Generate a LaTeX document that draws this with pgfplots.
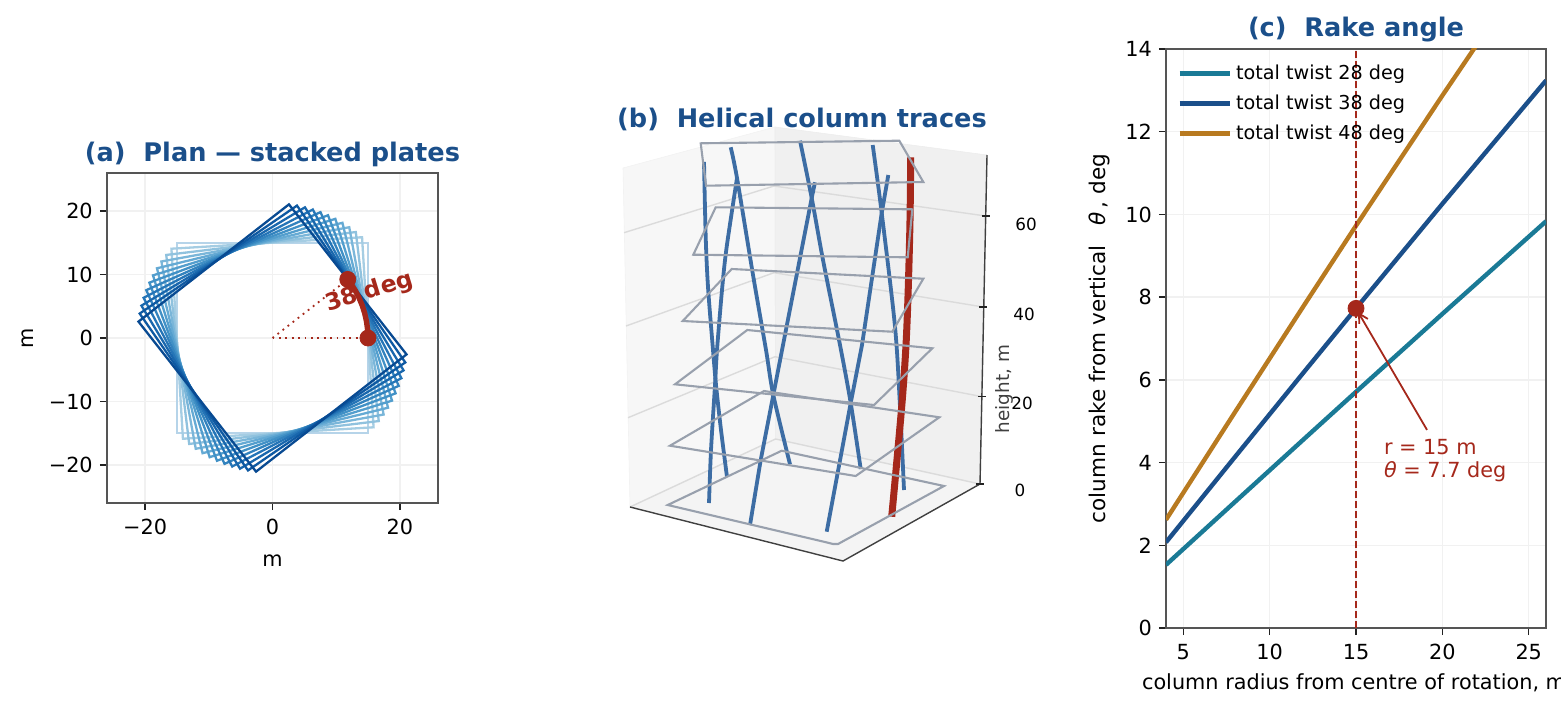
\documentclass[border=0pt]{standalone}
\usepackage{fontspec}
\setmainfont{DejaVu Sans}
\usepackage{pgfplots}
\pgfplotsset{compat=1.18}
\usetikzlibrary{arrows.meta}
\definecolor{ttl}{HTML}{1B4F8A}
\definecolor{redc}{HTML}{A5281B}
\definecolor{teal1}{HTML}{1A7A96}
\definecolor{ochre}{HTML}{B87A20}
\definecolor{spine}{HTML}{555555}
\definecolor{gridc}{HTML}{F1F1F1}
\definecolor{tickc}{HTML}{222222}
\definecolor{plate}{HTML}{98A0AD}
\definecolor{colb}{HTML}{3D6DA4}
\definecolor{pa}{RGB}{182,212,233}
\definecolor{pb}{RGB}{165,205,227}
\definecolor{pc}{RGB}{144,194,222}
\definecolor{pd}{RGB}{122,182,217}
\definecolor{pe}{RGB}{101,170,212}
\definecolor{pf}{RGB}{83,158,205}
\definecolor{pg}{RGB}{65,145,198}
\definecolor{ph}{RGB}{51,131,190}
\definecolor{pi}{RGB}{37,117,183}
\definecolor{pj}{RGB}{25,103,173}
\definecolor{pk}{RGB}{14,89,162}
\definecolor{pl}{RGB}{8,74,146}
\newcommand{\tfs}{\fontsize{10.4}{12}\selectfont}
\newcommand{\ttlfs}{\fontsize{12.8}{15}\selectfont\bfseries}
\pgfplotsset{
  panel/.style={
    scale only axis, axis line style={draw=spine,line width=0.9pt},
    grid=major, grid style={draw=gridc,line width=0.7pt},
    tick style={draw=tickc,line width=0.7pt},
    major tick length=3.6pt, tick align=outside, xtick pos=bottom, ytick pos=left,
    ticklabel style={font=\tfs, text=black},
    xticklabel style={yshift=-1pt},
    label style={font=\tfs},
    every axis plot/.append style={mark=none},
    /pgf/number format/assume math mode=true,
    title style={font=\ttlfs, text=ttl},
  }
}
\begin{document}
\begin{tikzpicture}[x=1pt,y=1pt]
\path[use as bounding box] (0,0) rectangle (780.5,354);
% ------------------ panel a
\begin{axis}[panel, at={(53.5pt,102.5pt)}, anchor=south west, width=165.5pt, height=165pt,
  xmin=-26,xmax=26,ymin=-26,ymax=26,
  xtick={-20,0,20}, xticklabels={−20,0,20},
  ytick={-20,-10,0,10,20}, yticklabels={−20,−10,0,10,20},
  xlabel={m}, ylabel={m}, title={(a)\ \ Plan — stacked plates},
  title style={at={(0.5,1)},anchor=south,yshift=-6.5pt},
  xlabel style={yshift=-3pt}, ylabel style={yshift=1pt},
]
\addplot[pa,line width=1.15pt] coordinates {(15,15) (-15,15) (-15,-15) (15,-15)} -- cycle;
\addplot[pb,line width=1.15pt] coordinates {(14.069,15.877) (-15.877,14.069) (-14.069,-15.877) (15.877,-14.069)} -- cycle;
\addplot[pc,line width=1.15pt] coordinates {(13.087,16.695) (-16.695,13.087) (-13.087,-16.695) (16.695,-13.087)} -- cycle;
\addplot[pd,line width=1.15pt] coordinates {(12.057,17.454) (-17.454,12.057) (-12.057,-17.454) (17.454,-12.057)} -- cycle;
\addplot[pe,line width=1.15pt] coordinates {(10.983,18.149) (-18.149,10.983) (-10.983,-18.149) (18.149,-10.983)} -- cycle;
\addplot[pf,line width=1.15pt] coordinates {(9.870,18.777) (-18.777,9.870) (-9.870,-18.777) (18.777,-9.870)} -- cycle;
\addplot[pg,line width=1.15pt] coordinates {(8.721,19.338) (-19.338,8.721) (-8.721,-19.338) (19.338,-8.721)} -- cycle;
\addplot[ph,line width=1.15pt] coordinates {(7.539,19.829) (-19.829,7.539) (-7.539,-19.829) (19.829,-7.539)} -- cycle;
\addplot[pi,line width=1.15pt] coordinates {(6.331,20.247) (-20.247,6.331) (-6.331,-20.247) (20.247,-6.331)} -- cycle;
\addplot[pj,line width=1.15pt] coordinates {(5.099,20.591) (-20.591,5.099) (-5.099,-20.591) (20.591,-5.099)} -- cycle;
\addplot[pk,line width=1.15pt] coordinates {(3.849,20.862) (-20.862,3.849) (-3.849,-20.862) (20.862,-3.849)} -- cycle;
\addplot[pl,line width=1.15pt] coordinates {(2.585,21.055) (-21.055,2.585) (-2.585,-21.055) (21.055,-2.585)} -- cycle;
\addplot[redc,line width=0.9pt,dash pattern=on 0.9pt off 2.3pt] coordinates {(0,0) (15,0)};
\addplot[redc,line width=0.9pt,dash pattern=on 0.9pt off 2.3pt] coordinates {(0,0) (11.82,9.235)};
\addplot[redc,line width=2.7pt] coordinates {(15,0) (14.943,1.307) (14.772,2.605) (14.489,3.882) (14.095,5.130) (13.595,6.339) (12.990,7.5) (12.287,8.604) (11.82,9.235)};
\addplot[only marks,mark=*,mark size=4pt,mark options={fill=redc,draw=redc},redc] coordinates {(15,0) (11.82,9.235)};
\node[text=redc,font=\fontsize{11.7}{13}\selectfont\bfseries,rotate=17] at (axis cs:15.2,7.2) {38 deg};
\end{axis}
% ------------------ panel b (screen-traced projection)
\begin{axis}[at={(300pt,64pt)}, anchor=south west, scale only axis, width=230pt, height=235pt,
  xmin=600,xmax=1060,ymin=110,ymax=580, y dir=reverse, hide axis, clip=false,
  every axis plot/.append style={mark=none},
  title={(b)\ \ Helical column traces}, title style={font=\ttlfs,text=ttl,at={(0.4391,1)},anchor=south,yshift=-20pt},
]
\addplot[fill=black!3,draw=black!5,line width=0.3pt] coordinates {(623,168) (775,127) (775.5,439) (630,507)} -- cycle;
\addplot[fill=black!6,draw=black!7,line width=0.3pt] coordinates {(775,127) (987,155) (980,484) (775.5,439)} -- cycle;
\addplot[fill=black!4.5,draw=none] coordinates {(630,507) (775.5,439) (980,484) (843,561)} -- cycle;
\addplot[black!14,line width=0.7pt] coordinates {(624,232.7) (774,186) (985.7,216)};
\addplot[black!14,line width=0.7pt] coordinates {(626,326) (774,272.7) (983.3,307)};
\addplot[black!14,line width=0.7pt] coordinates {(628,417.7) (775,356.7) (982.3,396.7)};
\addplot[black!14,line width=0.7pt] coordinates {(630,507) (775.5,439) (980,484)};
\addplot[black!75,line width=0.7pt] coordinates {(630,507) (843,561) (980,484) (987,155)};
\addplot[tickc,line width=0.6pt] coordinates {(976,484) (984,484)};
\addplot[tickc,line width=0.6pt] coordinates {(978.3,396.7) (986.3,396.7)};
\addplot[tickc,line width=0.6pt] coordinates {(979.3,307) (987.3,307)};
\addplot[tickc,line width=0.6pt] coordinates {(981.7,216) (989.7,216)};
\node[font=\fontsize{8.4}{10}\selectfont] at (axis cs:1026,224) {60};
\node[font=\fontsize{8.4}{10}\selectfont] at (axis cs:1024,314) {40};
\node[font=\fontsize{8.4}{10}\selectfont] at (axis cs:1022,403) {20};
\node[font=\fontsize{8.4}{10}\selectfont] at (axis cs:1020,490) {0};
\node[font=\fontsize{9.2}{10}\selectfont,rotate=90,text=black!75] at (axis cs:1004,389) {height, m};
% columns
\addplot[colb,line width=1.9pt,smooth,tension=0.5] coordinates {(704,162) (705.7,237) (708,287) (713,350) (716,385) (721,430) (727,477)};
\addplot[colb,line width=1.9pt,smooth,tension=0.5] coordinates {(737,178) (726.7,246.7) (722.3,286.7) (717,350) (715,385) (711,450) (709,503)};
\addplot[colb,line width=1.9pt,smooth,tension=0.5] coordinates {(730.7,147.3) (737,178) (753.3,276.7) (766,350) (773.3,395) (790,464.3)};
\addplot[colb,line width=1.9pt] coordinates {(750,525) (760.7,460) (773.3,395) (783,345) (811.7,198) (815,182.3)};
\addplot[colb,line width=1.9pt,smooth,tension=0.5] coordinates {(800,140.7) (811.7,198) (823,260) (840,345) (850.7,403) (860.7,469)};
\addplot[colb,line width=1.9pt] coordinates {(826.7,531.7) (850.7,403) (862,345) (881.7,213) (888.3,175)};
\addplot[colb,line width=1.9pt,smooth,tension=0.5] coordinates {(872.7,145) (881.7,213) (895,326.7) (900,406.7) (904,490)};
\addplot[redc,line width=3.5pt,smooth,tension=0.5] coordinates {(910.7,157.3) (910,220) (908.3,286.7) (906,345) (901.7,406.7) (891.7,516.7)};
% plates
\addplot[plate,line width=1.05pt] coordinates {(700.7,143.3) (899.3,140.7) (923.3,182) (706,185.7)} -- cycle;
\addplot[plate,line width=1.05pt] coordinates {(715.7,207.3) (912.3,209.3) (907.7,257.3) (693.3,254.7)} -- cycle;
\addplot[plate,line width=1.05pt] coordinates {(731.7,269) (923.3,278.7) (892.3,331.7) (682.7,321)} -- cycle;
\addplot[plate,line width=1.05pt] coordinates {(747.3,330) (932.3,348.3) (874,405) (675,384.3)} -- cycle;
\addplot[plate,line width=1.05pt] coordinates {(764,391) (939.3,417.3) (855.7,476) (670,445.7)} -- cycle;
\addplot[plate,line width=1.05pt] coordinates {(781.7,450.7) (944,486) (838,544) (833,544) (825,542) (667.7,505)} -- cycle;
\end{axis}
% ------------------ panel c
\begin{axis}[panel, at={(583pt,40pt)}, anchor=south west, width=190pt, height=289.5pt,
  xmin=4,xmax=26,ymin=0,ymax=14,
  xtick={5,10,15,20,25}, ytick={0,2,4,6,8,10,12,14},
  xlabel={column radius from centre of rotation, m},
  ylabel={column rake from vertical\ \ \hspace{3pt}\textit{θ}\hspace{2pt}, deg},
  title={(c)\ \ Rake angle},
  title style={at={(0.5,1)},anchor=south,yshift=-6pt},
  xlabel style={yshift=0pt,xshift=-1pt}, ylabel style={yshift=1pt,font=\fontsize{10.8}{12}\selectfont},
  legend style={at={(0.014,0.9876)},anchor=north west,draw=none,fill=none,font=\fontsize{9.6}{11}\selectfont,row sep=2.2pt},
  legend cell align=left,
  legend image code/.code={\draw[#1,line width=2.2pt] (0pt,0pt) -- (21.5pt,0pt); \path (0pt,0pt) -- (25pt,0pt);},
]
\addplot[teal1,line width=2.2pt] coordinates {(4,1.528) (8,3.053) (12,4.574) (15,5.711) (20,7.595) (26,9.834)};
\addlegendentry{total twist 28 deg}
\addplot[ttl,line width=2.2pt] coordinates {(4,2.073) (8,4.140) (12,6.197) (15,7.729) (20,10.257) (26,13.238)};
\addlegendentry{total twist 38 deg}
\addplot[ochre,line width=2.2pt] coordinates {(4,2.618) (8,5.224) (12,7.809) (15,9.728) (20,12.875) (22,14.11)};
\addlegendentry{total twist 48 deg}
\addplot[redc,line width=1.2pt,dash pattern=on 3.4pt off 1.6pt,forget plot] coordinates {(15,0) (15,14)};
\addplot[redc,line width=0.9pt,-{Straight Barb[length=4.5pt,width=5pt]},forget plot] coordinates {(19.11,4.79) (15.12,7.64)};
\addplot[only marks,mark=*,mark size=4pt,mark options={fill=redc,draw=redc},redc,forget plot] coordinates {(15,7.729)};
\node[text=redc,font=\fontsize{10.4}{12}\selectfont,anchor=west,inner sep=0pt] at (axis cs:16.6,4.38) {r = 15 m};
\node[text=redc,font=\fontsize{10.4}{12}\selectfont,anchor=west,inner sep=0pt] at (axis cs:16.6,3.77) {\textit{θ} = 7.7 deg};
\end{axis}
\end{tikzpicture}
\end{document}
